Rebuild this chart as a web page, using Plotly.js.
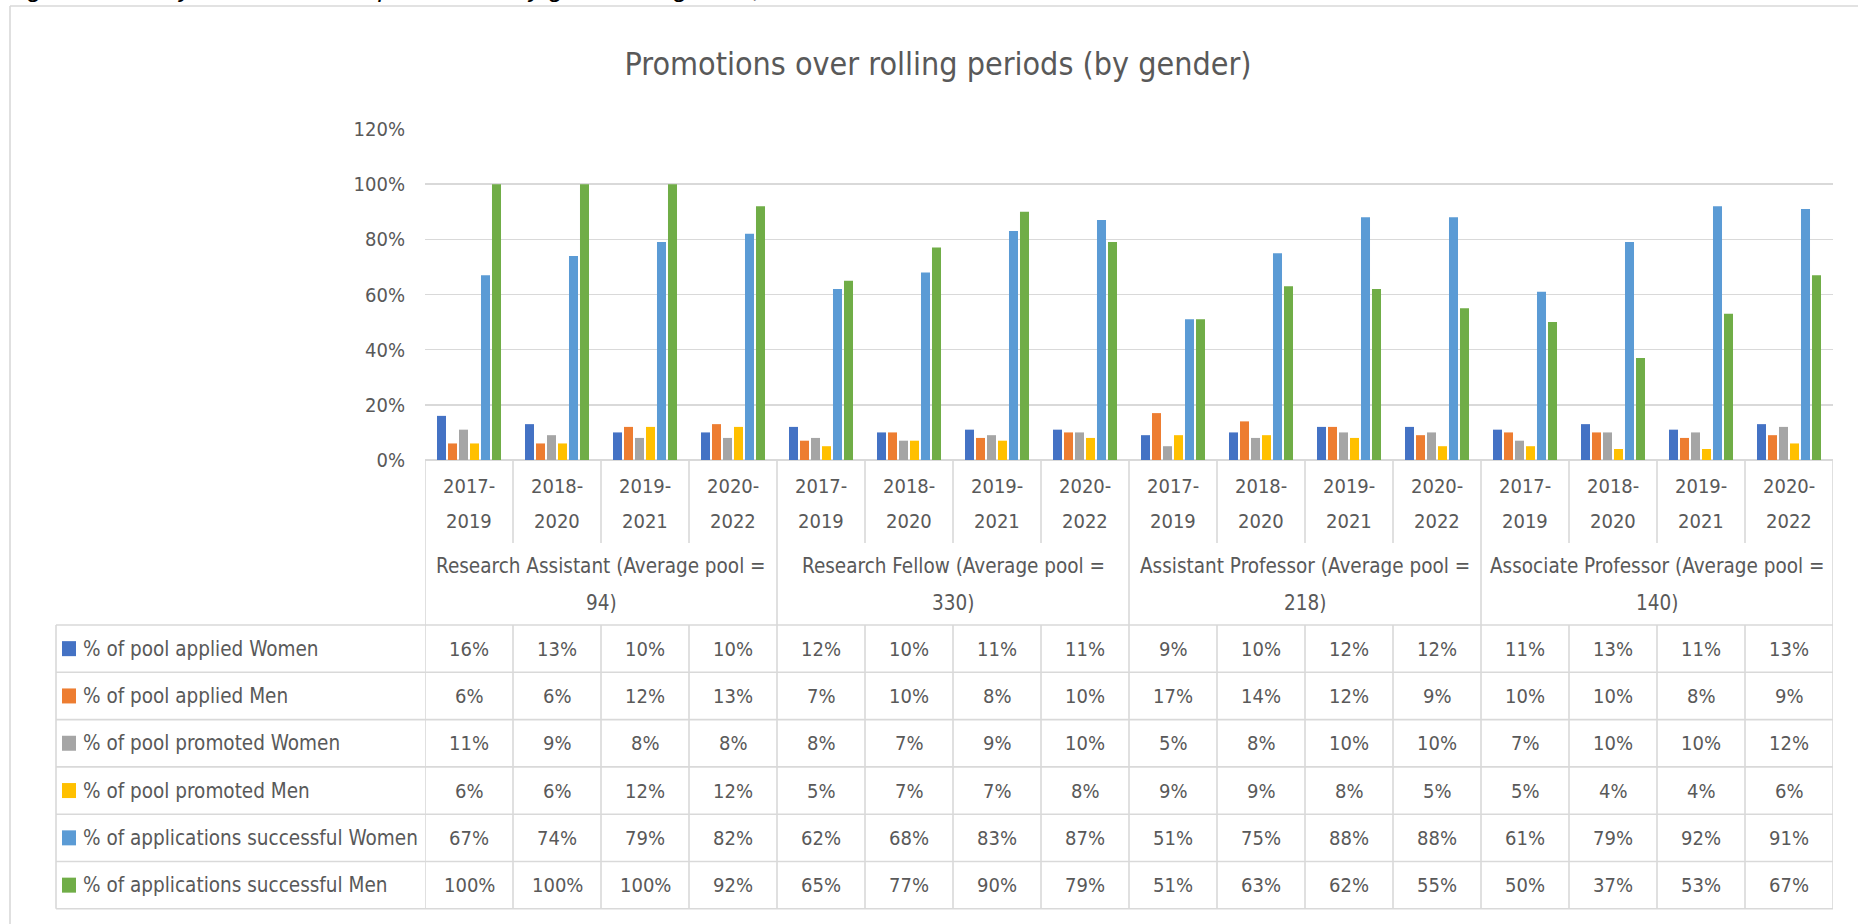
<!DOCTYPE html>
<html><head><meta charset="utf-8">
<script src="https://cdn.plot.ly/plotly-3.0.1.min.js"></script>
<style>html,body{margin:0;padding:0;background:#fff;overflow:hidden}</style>
</head><body><div id="chart" style="width:1858px;height:924px"></div>
<script>
// ---------- data ----------
const caption = "Figure 11: Analysis of academic promotions by grade and gender, 2017-2022";
const chartTitle = "Promotions over rolling periods (by gender)";
const grades = ["Research Assistant", "Research Fellow", "Assistant Professor", "Associate Professor"];
const averagePool = [94, 330, 218, 140];
const periods = ["2017-2019", "2018-2020", "2019-2021", "2020-2022"];
const seriesNames = [
  "% of pool applied Women",
  "% of pool applied Men",
  "% of pool promoted Women",
  "% of pool promoted Men",
  "% of applications successful Women",
  "% of applications successful Men"
];
const appliedWomen   = [16, 13, 10, 10, 12, 10, 11, 11, 9, 10, 12, 12, 11, 13, 11, 13];
const appliedMen     = [6, 6, 12, 13, 7, 10, 8, 10, 17, 14, 12, 9, 10, 10, 8, 9];
const promotedWomen  = [11, 9, 8, 8, 8, 7, 9, 10, 5, 8, 10, 10, 7, 10, 10, 12];
const promotedMen    = [6, 6, 12, 12, 5, 7, 7, 8, 9, 9, 8, 5, 5, 4, 4, 6];
const successWomen   = [67, 74, 79, 82, 62, 68, 83, 87, 51, 75, 88, 88, 61, 79, 92, 91];
const successMen     = [100, 100, 100, 92, 65, 77, 90, 79, 51, 63, 62, 55, 50, 37, 53, 67];
const seriesValues = [appliedWomen, appliedMen, promotedWomen, promotedMen, successWomen, successMen];
const seriesColors = ["#4472C4", "#ED7D31", "#A5A5A5", "#FFC000", "#5B9BD5", "#70AD47"];

// ---------- geometry (pixels) ----------
const W = 1858, H = 924;
const PL = 425, PR = 1833, PT = 129, PB = 460;
const fx = p => (p - PL) / (PR - PL);
const fy = p => (PB - p) / (PB - PT);
const TABLE_TOP = 625, ROW_H = 47.3, TABLE_LEFT = 56;
const TABLE_BOTTOM = TABLE_TOP + ROW_H * seriesNames.length;
const FONT = "'DejaVu Sans Condensed', 'DejaVu Sans', sans-serif";
const GRAY = "#595959", LINE = "#D9D9D9";

const nCat = grades.length * periods.length;
const xIdx = Array.from({length: nCat}, (_, i) => i);

const traces = seriesNames.map((name, s) => ({
  type: "bar",
  name: name,
  x: xIdx,
  y: seriesValues[s].map(v => v / 100),
  marker: {color: seriesColors[s], line: {width: 0}},
  hovertemplate: name + ": %{y:.0%}<extra></extra>"
}));

const shapes = [];
const annotations = [];
const line = (xref, x0, x1, y0, y1) => shapes.push({
  type: "line", xref: xref, yref: "paper", x0: x0, x1: x1, y0: y0, y1: y1,
  line: {color: LINE, width: 1.6}, layer: "above"
});
const txt = (xref, x, y, text, size, xanchor) => annotations.push({
  xref: xref, yref: "paper", x: x, y: y, text: text, showarrow: false,
  xanchor: xanchor || "center", yanchor: "middle", font: {family: FONT, size: size, color: GRAY}
});

// outer chart frame (top + left visible)
line("paper", fx(10), fx(W + 20), fy(6), fy(6));
line("paper", fx(10), fx(10), fy(6), fy(H + 20));

// category boundaries
for (let k = 0; k <= nCat; k++) {
  const xb = k - 0.5;
  if (k % periods.length === 0) {
    line("x", xb, xb, 0, fy(TABLE_BOTTOM));
  } else {
    line("x", xb, xb, 0, fy(543));
    line("x", xb, xb, fy(TABLE_TOP), fy(TABLE_BOTTOM));
  }
}
// table horizontal lines + left edge
for (let r = 0; r <= seriesNames.length; r++) {
  const yy = TABLE_TOP + ROW_H * r;
  line("paper", fx(TABLE_LEFT), 1, fy(yy), fy(yy));
}
line("paper", fx(TABLE_LEFT), fx(TABLE_LEFT), fy(TABLE_TOP), fy(TABLE_BOTTOM));

// period labels (two lines each)
for (let i = 0; i < nCat; i++) {
  const p = periods[i % periods.length].split("-");
  txt("x", i, fy(486), p[0] + "-", 20);
  txt("x", i, fy(521), p[1], 20);
}
// grade labels
grades.forEach((g, gi) => {
  const xc = gi * periods.length + (periods.length - 1) / 2;
  txt("x", xc, fy(566), g + " (Average pool =", 20.5);
  txt("x", xc, fy(603), averagePool[gi] + ")", 20.5);
});
// data table
seriesNames.forEach((name, s) => {
  const yc = TABLE_TOP + ROW_H * (s + 0.5);
  shapes.push({type: "rect", xref: "paper", yref: "paper",
    x0: fx(62), x1: fx(76), y0: fy(yc + 7.5), y1: fy(yc - 7.5),
    fillcolor: seriesColors[s], line: {width: 0}, layer: "above"});
  txt("paper", fx(81), fy(yc), name, 20.5, "left");
  seriesValues[s].forEach((v, i) => txt("x", i, fy(yc), v + "%", 20));
});
// caption (mostly cut off at the top of the page)
annotations.push({xref: "paper", yref: "paper", x: fx(4), y: fy(5), text: "<i>" + caption + "</i>",
  showarrow: false, xanchor: "left", yanchor: "bottom",
  font: {family: "'Liberation Sans', Arial, sans-serif", size: 26, color: "#000"}});

const layout = {
  width: W, height: H,
  margin: {l: PL, r: W - PR, t: PT, b: H - PB, pad: 0},
  paper_bgcolor: "#fff", plot_bgcolor: "#fff",
  showlegend: false,
  barmode: "group", bargap: 0.25, bargroupgap: 0.18,
  title: {text: chartTitle, xref: "container", yref: "container", x: 938 / W, xanchor: "center",
    y: 1 - 64 / H, yanchor: "middle", font: {family: FONT, size: 32, color: GRAY}},
  xaxis: {range: [-0.5, nCat - 0.5], showticklabels: false, showgrid: false, zeroline: false,
    showline: false, ticks: "", fixedrange: true},
  yaxis: {range: [0, 1.2], dtick: 0.2, tick0: 0, tickformat: ".0%", showgrid: true,
    gridcolor: LINE, gridwidth: 1.6, zeroline: true, zerolinecolor: LINE, zerolinewidth: 1.6,
    showline: false, ticks: "", ticklabelstandoff: 19,
    tickfont: {family: FONT, size: 20, color: GRAY}, fixedrange: true},
  shapes: shapes,
  annotations: annotations
};
Plotly.newPlot("chart", traces, layout, {displayModeBar: false, staticPlot: true});
</script>
</body></html>
